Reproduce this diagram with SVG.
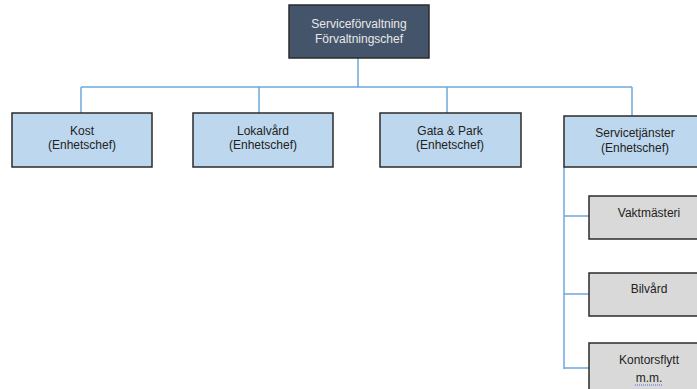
<svg xmlns="http://www.w3.org/2000/svg" width="697" height="389" viewBox="0 0 697 389">
<style>
.box{stroke:#2b2b2b;stroke-width:1.5}
.top{fill:#44546a}
.blue{fill:#bdd7ee}
.gray{fill:#d9d9d9}
.t{font-family:"Liberation Sans",Arial,sans-serif;font-size:12px;text-anchor:middle;fill:#222}
.tw{fill:#e8e8e8}
.c{stroke:#6fa8dc;stroke-width:1.5;fill:none}
</style>
<rect width="697" height="389" fill="#ffffff"/>
<g id="connectors">
<path class="c" d="M358 58V87M81 87H632M81 87V113M259 87V113M447 87V113M632 87V116"/>
<path class="c" d="M564 167V369M564 216H589M564 294H589M564 368H589"/>
</g>
<g id="n-top">
<rect class="box top" x="289" y="5" width="140" height="53"/>
<text class="t tw" x="359" y="28">Serviceförvaltning</text>
<text class="t tw" x="359" y="43">Förvaltningschef</text>
</g>
<g id="n-kost">
<rect class="box blue" x="12" y="113" width="140" height="54"/>
<text class="t" x="82" y="135">Kost</text>
<text class="t" x="82" y="149">(Enhetschef)</text>
</g>
<g id="n-lokalvard">
<rect class="box blue" x="193" y="113" width="140" height="54"/>
<text class="t" x="263" y="135">Lokalvård</text>
<text class="t" x="263" y="149">(Enhetschef)</text>
</g>
<g id="n-gata">
<rect class="box blue" x="380" y="113" width="141" height="54"/>
<text class="t" x="450" y="135">Gata &amp; Park</text>
<text class="t" x="450" y="149">(Enhetschef)</text>
</g>
<g id="n-servicetjanster">
<rect class="box blue" x="564" y="116" width="142" height="51"/>
<text class="t" x="635" y="137">Servicetjänster</text>
<text class="t" x="635" y="152">(Enhetschef)</text>
</g>
<g id="n-vaktmasteri">
<rect class="box gray" x="589" y="196" width="120" height="43"/>
<text class="t" x="649" y="217">Vaktmästeri</text>
</g>
<g id="n-bilvard">
<rect class="box gray" x="589" y="273" width="120" height="43"/>
<text class="t" x="649" y="293">Bilvård</text>
</g>
<g id="n-kontorsflytt">
<rect class="box gray" x="589" y="343" width="120" height="60"/>
<text class="t" x="649" y="364">Kontorsflytt</text>
<text class="t" x="649" y="382">m.m.</text>
<path d="M635 385H663" stroke="#4a6fd0" stroke-width="1" stroke-dasharray="1,1"/>
</g>
</svg>
